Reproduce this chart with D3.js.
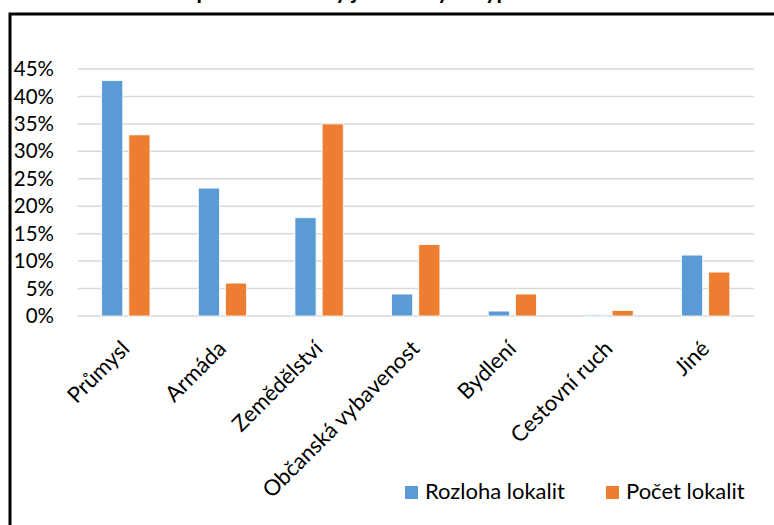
<!DOCTYPE html>
<html>
<head>
<meta charset="utf-8">
<script src="https://cdn.jsdelivr.net/npm/d3@7"></script>
<style>
  html, body { margin: 0; padding: 0; background: #fff; }
  svg { display: block; font-family: Lato, "Open Sans", sans-serif; }
</style>
</head>
<body>
<svg id="chart" width="774" height="525"></svg>
<script>
// Podíl rozlohy a počtu lokalit podle typu původního využití
const categories = ["Průmysl", "Armáda", "Zemědělství", "Občanská vybavenost", "Bydlení", "Cestovní ruch", "Jiné"];
const seriesNames = ["Rozloha lokalit", "Počet lokalit"];
const rozloha = [42.9, 23.3, 17.9, 4.0, 0.9, 0.2, 11.1];
const pocet = [33, 6, 35, 13, 4, 1, 8];
const yTicks = [0, 5, 10, 15, 20, 25, 30, 35, 40, 45];
const colors = ["#5b9bd5", "#ed7d31"];
const titleText = "Porovnání počtu a rozlohy jednotlivých typů";

const seriesValues = [rozloha, pocet];
const svg = d3.select("#chart");

// chart frame
svg.append("rect")
  .attr("x", 10).attr("y", 14)
  .attr("width", 900).attr("height", 700)
  .attr("fill", "none").attr("stroke", "#000").attr("stroke-width", 3);

// title (runs above the top edge of the page)
svg.append("text")
  .attr("x", 92).attr("y", -1)
  .attr("font-size", 22).attr("font-weight", "bold")
  .attr("fill", "#000")
  .text(titleText);

const plot = { left: 77.5, right: 754, top: 69, bottom: 316 };

const x = d3.scaleBand().domain(categories).range([plot.left, plot.right]).padding(0);
const bw = x.bandwidth();
const xs = d3.scaleBand().domain(seriesNames).range([bw * 0.25, bw * 0.75]).paddingInner(0.222);
const y = d3.scaleLinear().domain([0, 45]).range([plot.bottom, plot.top]);

// gridlines
svg.append("g").selectAll("line").data(yTicks).join("line")
  .attr("x1", plot.left).attr("x2", plot.right)
  .attr("y1", d => y(d)).attr("y2", d => y(d))
  .attr("stroke", "#d9d9d9").attr("stroke-width", 1.5);

// y axis labels
const yAxis = d3.axisLeft(y).tickValues(yTicks).tickSize(0).tickPadding(0)
  .tickFormat(d => d + "%");
svg.append("g")
  .attr("transform", "translate(54,0)")
  .call(yAxis)
  .call(g => g.select(".domain").remove())
  .call(g => g.selectAll("text")
    .attr("font-family", "Lato, sans-serif")
    .attr("font-size", 20.5).attr("fill", "#000"));

// bars
const groups = svg.append("g").selectAll("g").data(categories).join("g")
  .attr("transform", d => `translate(${x(d)},0)`);
groups.selectAll("rect")
  .data((d, i) => seriesNames.map((s, k) => ({ s, v: seriesValues[k][i], k })))
  .join("rect")
  .attr("x", d => xs(d.s))
  .attr("width", xs.bandwidth())
  .attr("y", d => y(d.v))
  .attr("height", d => y(0) - y(d.v))
  .attr("fill", d => colors[d.k])
  .attr("stroke", "#fff").attr("stroke-width", 0.8);

// category labels, rotated
svg.append("g").selectAll("text").data(categories).join("text")
  .attr("transform", d => `translate(${x(d) + bw / 2 + 5},350) rotate(-45)`)
  .attr("text-anchor", "end")
  .attr("font-size", 22).attr("fill", "#000")
  .text(d => d);

// legend
const legend = svg.append("g");
const legendX = [405, 606];
seriesNames.forEach((s, k) => {
  legend.append("rect")
    .attr("x", legendX[k]).attr("y", 486)
    .attr("width", 13).attr("height", 13)
    .attr("fill", colors[k]);
  legend.append("text")
    .attr("x", legendX[k] + 20).attr("y", 499)
    .attr("font-size", 22).attr("fill", "#000")
    .text(s);
});
</script>
</body>
</html>
